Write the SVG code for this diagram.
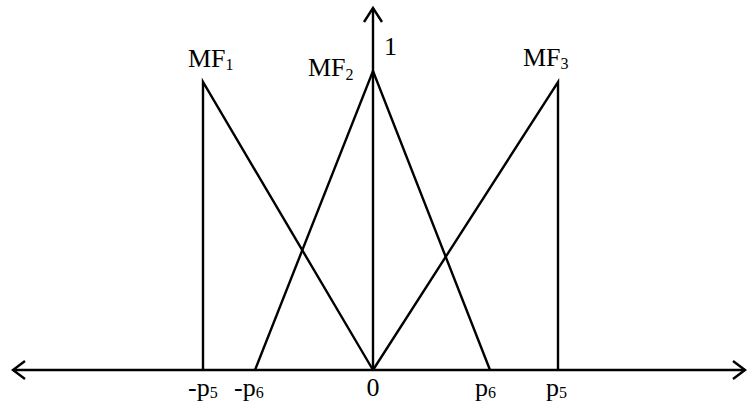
<svg xmlns="http://www.w3.org/2000/svg" width="750" height="403" viewBox="0 0 750 403">
<style>
.ln{stroke:#000;stroke-width:2.4;fill:none;stroke-linecap:butt;stroke-linejoin:miter}
.ar{stroke:#000;stroke-width:2.4;fill:none}
text{font-family:"Liberation Serif","Times New Roman",serif;fill:#000}
.lb{font-size:26px}
.sb{font-size:16px}
</style>
<rect width="750" height="403" fill="#fff"/>
<g id="axes">
<line class="ln" x1="13" y1="370" x2="745" y2="370"/>
<line class="ln" x1="373" y1="370" x2="373" y2="8"/>
<polyline class="ar" points="25,361 13,370 25,379"/>
<polyline class="ar" points="733,361 745,370 733,379"/>
<polyline class="ar" points="364,22 373,8 382,22"/>
</g>
<g id="MF1">
<polyline class="ln" points="203,370 203,82 373,370"/>
<text class="lb" x="188" y="67">MF<tspan class="sb" dy="3">1</tspan></text>
</g>
<g id="MF2">
<polyline class="ln" points="255,370 373,71 490,370"/>
<text class="lb" x="308" y="76">MF<tspan class="sb" dy="4">2</tspan></text>
</g>
<g id="MF3">
<polyline class="ln" points="373,370 558,82 558,370"/>
<text class="lb" x="523" y="66">MF<tspan class="sb" dy="3">3</tspan></text>
</g>
<g id="labels">
<text class="lb" x="384" y="55">1</text>
<text class="lb" x="188" y="396">-p<tspan class="sb" dy="2">5</tspan></text>
<text class="lb" x="234" y="396">-p<tspan class="sb" dy="2">6</tspan></text>
<text class="lb" x="373" y="396" text-anchor="middle">0</text>
<text class="lb" x="475" y="396">p<tspan class="sb" dy="2">6</tspan></text>
<text class="lb" x="546" y="396">p<tspan class="sb" dy="2">5</tspan></text>
</g>
</svg>
